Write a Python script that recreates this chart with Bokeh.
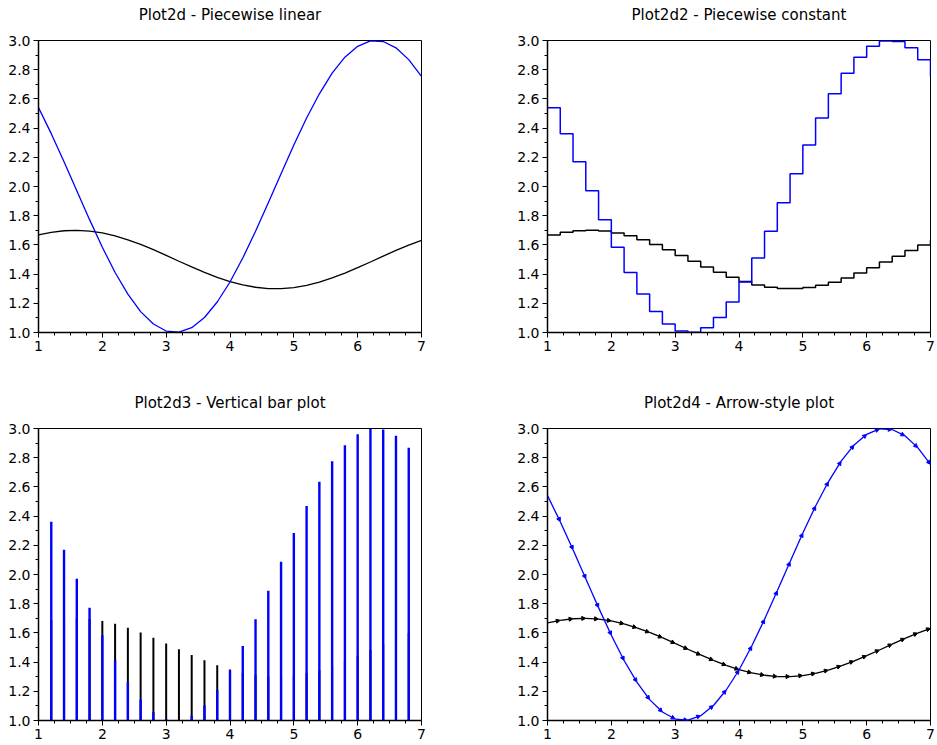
from bokeh.plotting import figure
from bokeh.layouts import column, row
from bokeh.models import (Range1d, FixedTicker, NumeralTickFormatter, Arrow, NormalHead,
                          ColumnDataSource)
from bokeh.core.properties import value
from bokeh.embed import file_html
from bokeh.resources import INLINE

# ---- data ----
x_vals = [1.0, 1.2, 1.4, 1.6, 1.8, 2.0, 2.2, 2.4, 2.6, 2.8, 3.0, 3.2, 3.4, 3.6, 3.8,
          4.0, 4.2, 4.4, 4.6, 4.8, 5.0, 5.2, 5.4, 5.6, 5.8, 6.0, 6.2, 6.4, 6.6, 6.8, 7.0]
blue_vals = [2.540, 2.362, 2.170, 1.971, 1.773, 1.584, 1.411, 1.263, 1.143, 1.058, 1.010,
             1.002, 1.033, 1.103, 1.209, 1.346, 1.510, 1.693, 1.888, 2.087, 2.284, 2.469,
             2.635, 2.776, 2.886, 2.960, 2.997, 2.993, 2.950, 2.869, 2.754]
black_vals = [1.668, 1.686, 1.697, 1.700, 1.695, 1.682, 1.662, 1.635, 1.603, 1.567, 1.528,
              1.488, 1.449, 1.412, 1.378, 1.349, 1.326, 1.310, 1.301, 1.301, 1.308, 1.323,
              1.345, 1.374, 1.407, 1.444, 1.483, 1.523, 1.562, 1.599, 1.631]
bar_base = 0.0

x_ticks = [1, 2, 3, 4, 5, 6, 7]
x_minor = [1.25, 1.5, 1.75, 2.25, 2.5, 2.75, 3.25, 3.5, 3.75, 4.25, 4.5, 4.75,
           5.25, 5.5, 5.75, 6.25, 6.5, 6.75]
y_ticks = [1.0, 1.2, 1.4, 1.6, 1.8, 2.0, 2.2, 2.4, 2.6, 2.8, 3.0]
y_minor = [1.1, 1.3, 1.5, 1.7, 1.9, 2.1, 2.3, 2.5, 2.7, 2.9]

titles = ["Plot2d - Piecewise linear", "Plot2d2 - Piecewise constant",
          "Plot2d3 - Vertical bar plot", "Plot2d4 - Arrow-style plot"]

BLUE = "#0000ff"
BLACK = "#000000"
FONT = "DejaVu Sans"


def title_fig(text, width, left, right):
    t = figure(width=width, height=28, output_backend="svg", toolbar_location=None,
               x_range=Range1d(0, 1), y_range=Range1d(0, 1),
               x_axis_location=None, y_axis_location=None,
               min_border_left=left, min_border_right=right, min_border_top=0, min_border_bottom=0)
    t.outline_line_color = None
    t.xgrid.visible = False
    t.ygrid.visible = False
    t.text(x=[0.5], y=[0.5], text=[text], text_align="center", text_baseline="middle",
           text_font=value(FONT), text_font_size="15px", text_color=BLACK)
    return t


def make_fig(width, height, left, right, top, bottom):
    p = figure(width=width, height=height, output_backend="svg", toolbar_location=None,
               x_range=Range1d(1, 7), y_range=Range1d(1, 3),
               min_border_left=left, min_border_right=right,
               min_border_top=top, min_border_bottom=bottom)
    p.xgrid.visible = False
    p.ygrid.visible = False
    p.outline_line_color = BLACK
    p.outline_line_alpha = 1
    p.outline_line_width = 1
    p.background_fill_color = "white"
    p.border_fill_color = "white"
    p.xaxis.ticker = FixedTicker(ticks=x_ticks, minor_ticks=x_minor)
    p.yaxis.ticker = FixedTicker(ticks=y_ticks, minor_ticks=y_minor)
    p.yaxis.formatter = NumeralTickFormatter(format="0.0")
    p.xaxis.formatter = NumeralTickFormatter(format="0")
    for ax in (p.xaxis, p.yaxis):
        ax.axis_line_color = BLACK
        ax.axis_line_width = 1.5
        ax.major_tick_line_color = BLACK
        ax.minor_tick_line_color = BLACK
        ax.major_tick_out = 5
        ax.major_tick_in = 0
        ax.minor_tick_out = 3
        ax.minor_tick_in = 0
        ax.major_label_text_font = FONT
        ax.major_label_text_font_size = "14px"
        ax.major_label_text_color = BLACK
        ax.major_label_standoff = 3
    return p


src = ColumnDataSource(dict(x=x_vals, blue=blue_vals, black=black_vals))
# bars at interior sample points (the end points coincide with the frame)
bar_src = ColumnDataSource(dict(x=x_vals[1:-1], blue=blue_vals[1:-1], black=black_vals[1:-1],
                                base=[bar_base] * (len(x_vals) - 2)))

t1 = title_fig(titles[0], 484, 38, 63)
t2 = title_fig(titles[1], 453, 63, 7)
t3 = title_fig(titles[2], 484, 38, 63)
t4 = title_fig(titles[3], 453, 63, 7)

# Plot 1: piecewise linear
p1 = make_fig(484, 360, 38, 63, 12, 56)
p1.line("x", "black", source=src, line_color=BLACK, line_width=1.3)
p1.line("x", "blue", source=src, line_color=BLUE, line_width=1.3)

# Plot 2: piecewise constant
p2 = make_fig(453, 360, 63, 7, 12, 56)
p2.step("x", "black", source=src, mode="after", line_color=BLACK, line_width=1.5)
p2.step("x", "blue", source=src, mode="after", line_color=BLUE, line_width=1.5)

# Plot 3: vertical bars
p3 = make_fig(484, 329, 38, 63, 12, 25)
p3.segment(x0="x", y0="base", x1="x", y1="black", source=bar_src, line_color=BLACK, line_width=2)
p3.segment(x0="x", y0="base", x1="x", y1="blue", source=bar_src, line_color=BLUE, line_width=2.4)

# Plot 4: arrow style
p4 = make_fig(453, 329, 63, 7, 12, 25)
for vals, col in ((black_vals, BLACK), (blue_vals, BLUE)):
    seg = ColumnDataSource(dict(x0=x_vals[:-1], y0=vals[:-1], x1=x_vals[1:], y1=vals[1:]))
    p4.add_layout(Arrow(end=NormalHead(size=4, fill_color=col, line_color=col, line_width=1),
                        x_start="x0", y_start="y0", x_end="x1", y_end="y1", source=seg,
                        line_color=col, line_width=1.3))

layout = column(row(t1, t2), row(p1, p2), row(t3, t4), row(p3, p4))
open("out.html", "w").write(file_html(layout, INLINE))
